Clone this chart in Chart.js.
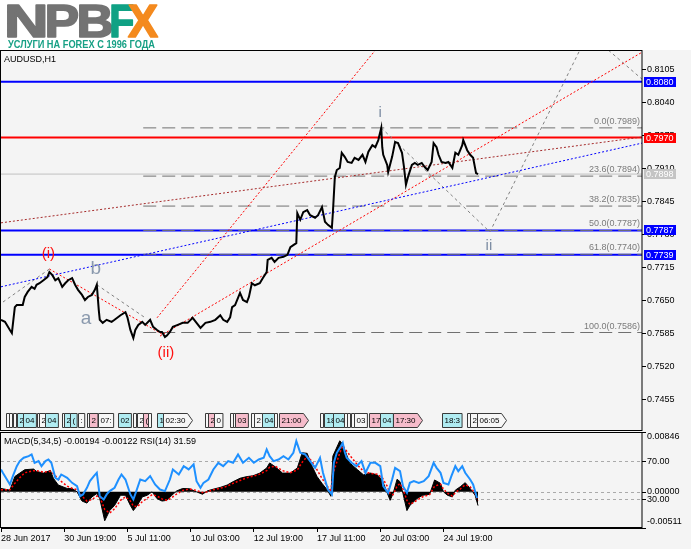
<!DOCTYPE html>
<html><head><meta charset="utf-8">
<script src="https://cdn.jsdelivr.net/npm/chart.js@4.4.1/dist/chart.umd.min.js"></script>
<style>
html,body{margin:0;padding:0;background:#fff;width:691px;height:549px;overflow:hidden}
#logo{position:absolute;left:0;top:0}
#wrapA{position:absolute;left:0;top:50px;width:691px;height:381px;background:#f4f4f4}
#wrapB{position:absolute;left:0;top:431px;width:691px;height:118px;background:#f4f4f4}
canvas{display:block}
</style></head><body>
<canvas id="logo" width="240" height="50"></canvas>
<div id="wrapA"><canvas id="main" width="691" height="381"></canvas></div>
<div id="wrapB"><canvas id="sub" width="691" height="118"></canvas></div>
<script>
// ---------------- DATA ----------------
const symbolTitle = 'AUDUSD,H1';
const logoLetters = ['N','P','B','F','X'];
const logoSub = 'УСЛУГИ НА FOREX С 1996 ГОДА';

// price (bar index = trading hours since 28 Jun 2017)
const priceBars = [0,4,9,11,14,16,19,22,24,27,
 31,34,36,39,43,47,49,52,55,58,
 62,65,68,72,75,78,82,85,88,92,
 95,97,99,100,103,107,112,115,121,126,
 128,131,134,136,139,143,146,151,154,158,
 161,163,166,168,171,174,179,184,189,194,
 198,202,207,212,217,222,225,229,232,234,
 237,242,245,249,251,254,257,262,265,269,
 270,274,277,281,286,290,293,296,299,300,
 303,306,310,313,318,321,325,328,331,335,
 336,338,340,343,345,348,351,355,358,362,
 366,369,372,376,379,382,385,386,387,391,
 392,396,399,402,406,408,410,412,416,419,
 422,426,429,432,436,438,441,443,446,450,
 453,457,460,463,467,468,472,475,478,481,
 483];
const priceClose = [0.7611,0.7607,0.7591,0.7585,0.7636,0.7640,0.7640,0.7640,0.7656,0.7666,
 0.7676,0.7672,0.7680,0.7683,0.7689,0.7695,0.7705,0.7699,0.7689,0.7693,
 0.7676,0.7683,0.7689,0.7693,0.7680,0.7670,0.7660,0.7650,0.7656,0.7660,
 0.7670,0.7680,0.7630,0.7611,0.7605,0.7611,0.7607,0.7611,0.7620,0.7626,
 0.7616,0.7591,0.7575,0.7591,0.7601,0.7607,0.7601,0.7611,0.7597,0.7591,
 0.7587,0.7587,0.7577,0.7580,0.7587,0.7597,0.7601,0.7605,0.7605,0.7615,
 0.7605,0.7595,0.7605,0.7607,0.7611,0.7620,0.7611,0.7607,0.7616,0.7636,
 0.7640,0.7664,0.7650,0.7646,0.7656,0.7683,0.7679,0.7683,0.7693,0.7705,
 0.7729,0.7733,0.7725,0.7733,0.7735,0.7739,0.7754,0.7758,0.7762,0.7821,
 0.7808,0.7823,0.7827,0.7817,0.7812,0.7817,0.7833,0.7804,0.7798,0.7792,
 0.7821,0.7892,0.7906,0.7910,0.7940,0.7932,0.7922,0.7920,0.7930,0.7926,
 0.7936,0.7922,0.7942,0.7955,0.7951,0.7965,0.7989,0.7951,0.7936,0.7916,
 0.7902,0.7932,0.7961,0.7959,0.7940,0.7912,0.7877,0.7892,0.7916,0.7920,
 0.7916,0.7920,0.7912,0.7906,0.7922,0.7959,0.7951,0.7936,0.7922,0.7920,
 0.7922,0.7910,0.7940,0.7936,0.7955,0.7965,0.7945,0.7936,0.7930,0.7900,
 0.7898];

const priceTicks = [0.8105,0.8040,0.7975,0.7910,0.7845,0.7780,0.7715,0.7650,0.7585,0.7520,0.7455];
const PRICE_MIN = 0.73920, PRICE_MAX = 0.81424;
const BAR_MIN = 0, BAR_MAX = 649;

const timeTickBars = [0,64,128,192,256,320,384,448];
const timeTickLabels = ['28 Jun 2017','30 Jun 19:00','5 Jul 11:00','10 Jul 03:00','12 Jul 19:00','17 Jul 11:00','20 Jul 03:00','24 Jul 19:00'];

// horizontal levels
const levelPrices = [0.8080, 0.7970, 0.7898, 0.7787, 0.7739];
const levelKinds  = ['blue','red','bid','blue','blue'];

// fibonacci
const fibPct   = [0, 23.6, 38.2, 50, 61.8, 100];
const fibPrice = [0.7989, 0.7894, 0.7835, 0.7787, 0.7740, 0.7586];
const fibStartBar = 144;

// trend lines (bar, price) -> (bar, price)
const trendKinds  = ['blue','brown','red','red','red','grey','grey','grey','grey','grey'];
const trendBar0   = [0, 0, 158, 161, 49, 2, 97, 385, 495, 615];
const trendPrice0 = [0.7676, 0.7802, 0.7615, 0.7579, 0.7711, 0.7646, 0.7680, 0.7989, 0.7784, 0.8142];
const trendBar1   = [649, 649, 379, 649, 168, 49, 146, 495, 586, 649];
const trendPrice1 = [0.7959, 0.7971, 0.8142, 0.8138, 0.7577, 0.7711, 0.7615, 0.7784, 0.8142, 0.8085];

// wave labels
const waveTexts  = ['(i)','b','a','(ii)','i','ii'];
const waveBars   = [48, 96, 86, 167, 384, 494];
const wavePrices = [0.7741, 0.7712, 0.7613, 0.7546, 0.8018, 0.7756];
const waveKinds  = ['major','minor','minor','major','minute','minute'];

// news events strip
const eventBars = [5,8,12,16,22,36,38,45,62,64,70,78,87,89,98,118,134,138,144,149,158,164,207,210,216,232,235,237,253,256,264,276,281,323,327,336,347,350,354,357,373,384,397,447,472,475,482];
const eventTexts = ['','','','2','04','','2','04','','2','(',':','','2','07:','02','','2','(','','1','02:30','','2','0','',':','03','','2','04','','21:00','','18','04','','','(','03','17','04','17:30','18:3','','2','06:05'];
const eventKinds = ['n','n','n','c','c','n','n','c','n','c','c','n','n','p','n','c','n','n','p','n','c','n','n','p','n','n','n','p','n','n','c','n','p','n','c','c','n','n','n','n','p','c','p','c','n','n','n'];

// MACD(5,34,5)
const macdBars = [0,9,14,19,24,33,36,43,50,53,58,67,72,77,82,87,92,97,100,105,110,115,121,126,131,134,138,143,148,153,158,163,168,173,178,184,191,198,204,209,215,222,229,235,242,249,255,262,269,272,278,285,293,300,305,310,315,320,325,330,334,336,343,346,353,361,367,374,381,386,391,394,397,401,404,407,411,414,421,427,434,439,445,448,452,457,460,465,470,475,480,483];
const macdHist = [0.00048,0.00024,0.00216,0.00265,0.00313,0.00322,0.00289,0.00265,0.00303,0.00192,
 0.00096,0.00048,0.00048,0,-0.0013,-0.00159,-0.00072,-0.00024,-0.00096,-0.00409,
 -0.00265,-0.00192,-0.00048,-0.00048,-0.00192,-0.00265,-0.00192,-0.00072,-0.00048,0,
 -0.00096,-0.0013,-0.0012,-0.00048,0.00014,0.00048,0.00043,0,-0.00034,0.00014,
 0.00038,0.00063,0.00096,0.00144,0.00192,0.00216,0.00226,0.00265,0.00337,0.00409,
 0.00351,0.00265,0.00265,0.00337,0.00553,0.00544,0.00361,0.00216,0.0012,0.00034,
 -0.00063,0.00505,0.00722,0.00673,0.00409,0.00313,0.0024,0.00265,0.0024,0.00168,
 -0.00014,-0.0012,-0.00024,0.00178,0.00144,-0.00024,-0.00265,-0.00192,-0.00096,-0.00048,
 -0.00034,0.00168,0.0012,0,-0.00048,-0.00072,0.00024,0.00072,0.0013,0.00048,
 -0.00048,-0.00194];
const macdSignal = [0.0003,0.0003,0.0012,0.0020,0.0027,0.0030,0.0030,0.0028,0.0029,0.0026,
 0.0018,0.0008,0.0005,0.0003,-0.0006,-0.0013,-0.0011,-0.0006,-0.0007,-0.0025,
 -0.0030,-0.0024,-0.0012,-0.0007,-0.0013,-0.0020,-0.0021,-0.0014,-0.0009,-0.0004,
 -0.0006,-0.0010,-0.0012,-0.0008,-0.0003,0.0002,0.0004,0.0002,-0.0001,0,
 0.0003,0.0005,0.0008,0.0012,0.0016,0.0020,0.0022,0.0025,0.0030,0.0035,
 0.0036,0.0030,0.0027,0.0031,0.0042,0.0050,0.0043,0.0031,0.0019,0.0009,
 0,0.0025,0.0055,0.0065,0.0052,0.0038,0.0029,0.0026,0.0025,0.0020,
 0.0008,-0.0003,-0.0004,0.0008,0.0012,0.0004,-0.0012,-0.0018,-0.0012,-0.0007,
 -0.0004,0.0008,0.0011,0.0004,-0.0002,-0.0006,-0.0001,0.0004,0.0010,0.0007,
 -0.0002,-0.00122];
const MACD_MAX = 0.00846, MACD_MIN = -0.00511;

// RSI(14)
const rsiBars = [0,2,6,9,12,16,19,23,28,31,34,38,41,45,48,51,55,58,61,67,72,77,80,83,87,90,94,97,100,104,107,110,115,119,122,126,131,134,137,141,146,151,156,161,166,171,174,180,185,190,195,198,202,205,210,215,220,225,230,235,240,245,251,256,261,266,269,272,276,281,286,291,296,299,303,308,313,318,323,326,331,335,337,340,343,346,348,350,355,360,365,369,374,379,384,387,392,396,399,404,407,411,414,418,423,428,433,438,441,445,448,453,456,460,463,467,470,475,478,482];
const rsiValues = [61.6,57.9,51,45.8,54.6,65.1,70.4,73.9,75.6,77.4,
 68.6,70.4,65.1,70.4,72.1,68.6,52.8,51,56.3,52.8,
 47.5,44,33.5,35.3,42.3,49.3,54.6,58.1,33.5,30,
 35.3,38.8,42.3,51,56.3,51,35.3,30,38.8,51,
 49.3,54.6,45.8,40.5,38.8,51,61.6,56.3,65.1,61.6,
 66.9,49.3,42.3,47.5,51,61.6,68.6,65.1,70.4,68.6,
 77.4,68.6,73.9,68.6,72.1,73.9,82.7,75.6,70.4,72.1,
 75.6,72.1,79.1,91.4,79.1,77.4,70.4,63.3,73.9,58.1,
 40.5,35.3,68.6,79.1,84,89.7,80,73.9,68.6,65.1,
 70.4,58.1,68.6,68.6,65.1,44,37,51,63.3,59.8,
 44,37,47.5,49.3,47.5,49.3,54.6,68.6,63.3,58.1,
 47.5,45.8,54.6,65.1,59.8,65.1,58.1,51,45.8,31.59];
const rsiLevels = [70, 30];

// ---------------- STYLES ----------------
const FONT = "'Liberation Sans', Arial, sans-serif";
const levelStyle = {
  blue: {color:'#0000ff', width:2, box:'#0000ff', text:'#ffffff'},
  red:  {color:'#ff0000', width:2, box:'#ff0000', text:'#ffffff'},
  bid:  {color:'#c0c0c0', width:1, box:'#c4c4c4', text:'#ffffff'}
};
const trendStyle = {
  blue:  {color:'#0000ff', dash:[2,2]},
  brown: {color:'#a52a2a', dash:[2,2]},
  red:   {color:'#ff0000', dash:[2,2]},
  grey:  {color:'#808080', dash:[3,3]}
};
const waveStyle = {
  major:  {size:15, color:'#ff1010'},
  minor:  {size:19, color:'#8a99ad'},
  minute: {size:15, color:'#7d8da3'}
};
const eventFill = {n:'#f7f7f7', c:'#b0ecf2', p:'#f6bccb'};
// logo glyph boxes (left, right) and colours
const logoBox = [[8,45],[48,78],[80,112],[112,133],[128,158]];
const logoColor = ['#737373','#737373','#737373','#10a184','#f48a1e'];

// ---------------- LOGO ----------------
(function(){
  const c = document.getElementById('logo').getContext('2d');
  c.textBaseline = 'alphabetic';
  c.font = `bold 45px ${FONT}`;
  c.lineJoin = 'round';
  logoLetters.forEach((ch,i)=>{
    const m = c.measureText(ch);
    const ink = m.actualBoundingBoxRight + m.actualBoundingBoxLeft;
    const [l, r] = logoBox[i];
    const sx = (r - l) / ink;
    const sy = 32 / m.actualBoundingBoxAscent;
    c.save();
    c.translate(l + m.actualBoundingBoxLeft * sx, 37);
    c.scale(sx, sy);
    c.fillStyle = logoColor[i]; c.strokeStyle = logoColor[i]; c.lineWidth = 1.6;
    c.fillText(ch, 0, 0); c.strokeText(ch, 0, 0);
    c.restore();
  });
  c.font = `bold 10px ${FONT}`;
  c.fillStyle = '#17a085';
  c.fillText(logoSub, 8, 47.5, 147);
})();

// ---------------- MAIN CHART ----------------
const mainDatasets = [];
mainDatasets.push({data: priceBars.map((b,i)=>({x:b, y:priceClose[i]})), borderColor:'#000', borderWidth:2, pointRadius:0, tension:0});
trendKinds.forEach((k,i)=>{
  const s = trendStyle[k];
  mainDatasets.push({data:[{x:trendBar0[i], y:trendPrice0[i]},{x:trendBar1[i], y:trendPrice1[i]}], borderColor:s.color, borderDash:s.dash, borderWidth:1, pointRadius:0});
});
fibPrice.forEach(p=>{
  mainDatasets.push({data:[{x:fibStartBar, y:p},{x:BAR_MAX, y:p}], borderColor:'#707070', borderDash:[13,6], borderWidth:1, pointRadius:0});
});
levelPrices.forEach((p,i)=>{
  const s = levelStyle[levelKinds[i]];
  mainDatasets.push({data:[{x:BAR_MIN, y:p},{x:BAR_MAX, y:p}], borderColor:s.color, borderWidth:s.width, pointRadius:0});
});

const mainDecor = {
  id:'mainDecor',
  afterDatasetsDraw(chart){
    const {ctx, chartArea:a, scales:{x, y}} = chart;
    ctx.save();
    ctx.font = `9px ${FONT}`; ctx.fillStyle = '#7a7a7a'; ctx.textAlign = 'right'; ctx.textBaseline = 'alphabetic';
    fibPct.forEach((p,i)=>{
      ctx.fillText(`${p.toFixed(1)}(${fibPrice[i].toFixed(4)})`, a.right-2, y.getPixelForValue(fibPrice[i])-4);
    });
    ctx.textAlign = 'center'; ctx.textBaseline = 'middle';
    waveTexts.forEach((t,i)=>{
      const st = waveStyle[waveKinds[i]];
      ctx.font = `${st.size}px ${FONT}`; ctx.fillStyle = st.color;
      ctx.fillText(t, x.getPixelForValue(waveBars[i]), y.getPixelForValue(wavePrices[i]));
    });
    ctx.textAlign = 'left'; ctx.fillStyle = '#000'; ctx.font = `9px ${FONT}`;
    ctx.fillText(symbolTitle, a.left+3, a.top+9.5);
    // news events strip
    ctx.font = `8px ${FONT}`; ctx.lineWidth = 1;
    const top = Math.round(a.bottom) - 18, h = 15;
    const xs = eventBars.map(b=>Math.round(x.getPixelForValue(b)));
    eventBars.forEach((b,i)=>{
      const t = eventTexts[i];
      const arrow = t.length === 5;
      let w = (t ? ctx.measureText(t).width + 4 : 3) + (arrow ? 5 : 0);
      if (i < eventBars.length-1) w = Math.min(w, xs[i+1]-xs[i]);
      const x0 = xs[i] + 0.5;
      ctx.beginPath();
      if (arrow) {
        ctx.moveTo(x0, top+0.5); ctx.lineTo(x0+w-5, top+0.5); ctx.lineTo(x0+w, top+h/2);
        ctx.lineTo(x0+w-5, top+h-0.5); ctx.lineTo(x0, top+h-0.5); ctx.closePath();
      } else {
        ctx.rect(x0, top+0.5, w, h-1);
      }
      ctx.fillStyle = eventFill[eventKinds[i]]; ctx.fill();
      ctx.strokeStyle = '#3a3a3a'; ctx.stroke();
      if (t) {
        ctx.save(); ctx.beginPath(); ctx.rect(x0, top, w, h); ctx.clip();
        ctx.fillStyle = '#000'; ctx.fillText(t, x0+2, top+h/2+0.5);
        ctx.restore();
      }
    });
    ctx.restore();
  },
  afterDraw(chart){
    const {ctx, chartArea:a, scales:{y}} = chart;
    ctx.save();
    ctx.strokeStyle = '#000'; ctx.lineWidth = 1;
    ctx.strokeRect(a.left-0.5, a.top+0.5, a.right-a.left+0.5, a.bottom-a.top-1);
    // price axis ticks and labels
    ctx.font = `9px ${FONT}`; ctx.textBaseline = 'middle'; ctx.textAlign = 'left'; ctx.fillStyle = '#000';
    priceTicks.forEach(v=>{
      const py = y.getPixelForValue(v);
      const yy = Math.round(py)+0.5;
      ctx.beginPath(); ctx.moveTo(a.right, yy); ctx.lineTo(a.right+4, yy); ctx.stroke();
      ctx.fillText(v.toFixed(4), a.right+5, py+0.5);
    });
    // level value boxes
    levelPrices.forEach((p,i)=>{
      const s = levelStyle[levelKinds[i]];
      const py = Math.round(y.getPixelForValue(p));
      ctx.fillStyle = s.box; ctx.fillRect(a.right+2, py-5, 32, 10);
      ctx.fillStyle = s.text; ctx.fillText(p.toFixed(4), a.right+4, py+0.5);
    });
    ctx.restore();
  }
};

new Chart(document.getElementById('main'), {
  type:'line',
  data:{datasets: mainDatasets},
  options:{
    responsive:false, animation:false, events:[],
    layout:{padding:{left:1, right:49, top:0, bottom:0}},
    plugins:{legend:{display:false}, tooltip:{enabled:false}},
    scales:{
      x:{type:'linear', min:BAR_MIN, max:BAR_MAX, display:false},
      y:{type:'linear', position:'right', min:PRICE_MIN, max:PRICE_MAX, display:false}
    }
  },
  plugins:[mainDecor]
});

// ---------------- MACD / RSI PANEL ----------------
const subDecor = {
  id:'subDecor',
  beforeDatasetsDraw(chart){
    const {ctx, chartArea:a, scales} = chart;
    ctx.save(); ctx.strokeStyle = '#aaaaaa'; ctx.setLineDash([3,3]); ctx.lineWidth = 1;
    const ys = [scales.rsi.getPixelForValue(rsiLevels[0]), scales.macd.getPixelForValue(0), scales.rsi.getPixelForValue(rsiLevels[1])];
    ys.forEach(py=>{ const yy = Math.round(py)+0.5; ctx.beginPath(); ctx.moveTo(a.left, yy); ctx.lineTo(a.right, yy); ctx.stroke(); });
    ctx.restore();
  },
  afterDraw(chart){
    const {ctx, chartArea:a, scales} = chart;
    ctx.save();
    ctx.strokeStyle = '#000'; ctx.lineWidth = 1;
    ctx.strokeRect(a.left-0.5, a.top+0.5, a.right-a.left+0.5, a.bottom-a.top-1);
    ctx.font = `9px ${FONT}`; ctx.fillStyle = '#000'; ctx.textAlign = 'left'; ctx.textBaseline = 'middle';
    const items = [
      {py:scales.macd.getPixelForValue(MACD_MAX), txt:MACD_MAX.toFixed(5), dy:5},
      {py:scales.rsi.getPixelForValue(rsiLevels[0]), txt:rsiLevels[0].toFixed(2), dy:0},
      {py:scales.macd.getPixelForValue(0), txt:(0).toFixed(5), dy:0},
      {py:scales.rsi.getPixelForValue(rsiLevels[1]), txt:rsiLevels[1].toFixed(2), dy:0},
      {py:scales.macd.getPixelForValue(MACD_MIN), txt:MACD_MIN.toFixed(5), dy:-6}
    ];
    items.forEach(it=>{
      const yy = Math.round(it.py)+0.5;
      ctx.beginPath(); ctx.moveTo(a.right, yy); ctx.lineTo(a.right+4, yy); ctx.stroke();
      ctx.fillText(it.txt, a.right+5, it.py+it.dy);
    });
    const last = macdHist.length-1;
    ctx.fillText(`MACD(5,34,5) ${macdHist[last].toFixed(5)} ${macdSignal[last].toFixed(5)} RSI(14) ${rsiValues[rsiValues.length-1].toFixed(2)}`, a.left+3, a.top+9.5);
    ctx.restore();
  }
};

new Chart(document.getElementById('sub'), {
  type:'line',
  data:{datasets:[
    {data: rsiBars.map((b,i)=>({x:b, y:rsiValues[i]})), yAxisID:'rsi', borderColor:'#1e90ff', borderWidth:2, pointRadius:0, tension:0},
    {data: macdBars.map((b,i)=>({x:b, y:macdSignal[i]})), yAxisID:'macd', borderColor:'#ff0000', borderDash:[2,2], borderWidth:1.5, pointRadius:0, tension:0},
    {data: macdBars.map((b,i)=>({x:b, y:macdHist[i]})), yAxisID:'macd', borderColor:'#000', backgroundColor:'#000', fill:'origin', borderWidth:1, pointRadius:0, tension:0}
  ]},
  options:{
    responsive:false, animation:false, events:[],
    layout:{padding:{left:1, right:49, top:1, bottom:0}},
    plugins:{legend:{display:false}, tooltip:{enabled:false}},
    scales:{
      x:{type:'linear', min:BAR_MIN, max:BAR_MAX, position:'bottom',
        afterBuildTicks:s=>{ s.ticks = timeTickBars.map(v=>({value:v})); },
        afterFit:s=>{ s.height = 21; },
        ticks:{callback:v=>timeTickLabels[timeTickBars.indexOf(v)], align:'start', padding:1, maxRotation:0, minRotation:0, autoSkip:false, font:{family:FONT, size:9}, color:'#000'},
        grid:{drawOnChartArea:false, drawTicks:true, tickLength:4, color:'#000'},
        border:{display:true, color:'#000'}
      },
      macd:{type:'linear', position:'right', display:false, min:MACD_MIN, max:MACD_MAX},
      rsi:{type:'linear', position:'right', display:false, min:0, max:101}
    }
  },
  plugins:[subDecor]
});
</script>
</body></html>
